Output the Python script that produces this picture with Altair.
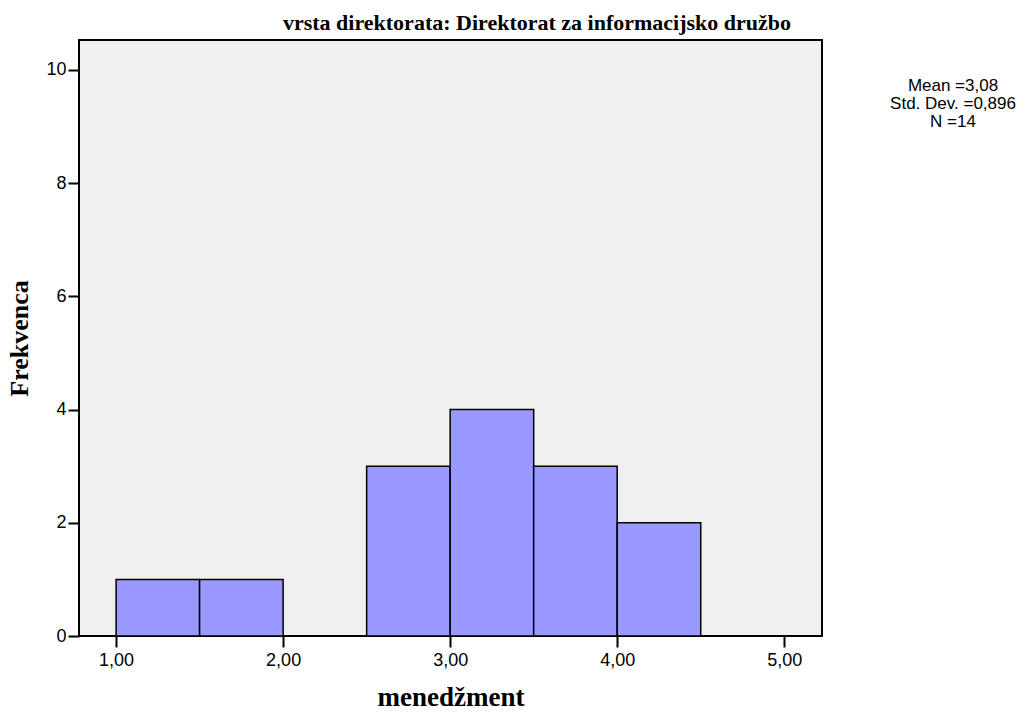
import altair as alt
import pandas as pd

bin_start = [1.0, 1.5, 2.5, 3.0, 3.5, 4.0]
bin_end = [1.5, 2.0, 3.0, 3.5, 4.0, 4.5]
counts = [1, 1, 3, 4, 3, 2]
x_ticks = [1, 2, 3, 4, 5]
y_ticks = [0, 2, 4, 6, 8, 10]
title_text = "vrsta direktorata: Direktorat za informacijsko družbo"
stats_text = "Mean =3,08\nStd. Dev. =0,896\nN =14"

df = pd.DataFrame({"start": bin_start, "end": bin_end, "count": counts})

W, H = 743, 596
xscale = alt.Scale(domain=[0.778, 5.226], nice=False, zero=False)
yscale = alt.Scale(domain=[0, 10.53], nice=False)

bars = alt.Chart(df).mark_rect(fill="#9999FF", stroke="black", strokeWidth=1.5).encode(
    x=alt.X("start:Q", scale=xscale,
            axis=alt.Axis(values=x_ticks, title="menedžment",
                          labelExpr="replace(format(datum.value, '.2f'), '.', ',')",
                          domain=False, grid=False, tickColor="black", tickSize=11, tickWidth=2,
                          labelFont="Liberation Sans", labelFontSize=18, labelColor="black",
                          labelPadding=4,
                          titleFont="Liberation Serif", titleFontSize=27, titleFontWeight="bold",
                          titleColor="black", titlePadding=15)),
    x2="end:Q",
    y=alt.Y("count:Q", scale=yscale,
            axis=alt.Axis(values=y_ticks, title="Frekvenca",
                          domain=False, grid=False, tickColor="black", tickSize=11, tickWidth=2,
                          labelFont="Liberation Sans", labelFontSize=18, labelColor="black",
                          labelPadding=2,
                          titleFont="Liberation Serif", titleFontSize=26, titleFontWeight="bold",
                          titleColor="black", titlePadding=13)),
    y2=alt.datum(0),
)

title = alt.Chart(pd.DataFrame({"t": [title_text]})).mark_text(
    font="Liberation Serif", fontSize=22, fontWeight="bold", color="black",
    align="center", baseline="alphabetic"
).encode(x=alt.value(458), y=alt.value(-10), text="t:N")

stats = alt.Chart(pd.DataFrame({"t": [stats_text]})).mark_text(
    font="Liberation Sans", fontSize=17, color="black", align="center", baseline="middle",
    lineBreak="\n", lineHeight=18
).encode(x=alt.value(874), y=alt.value(46), text="t:N")

chart = alt.layer(bars, title, stats).properties(
    width=W, height=H,
    background="white",
    autosize=alt.AutoSizeParams(type="none"),
    padding={"left": 79, "top": 40, "right": 205, "bottom": 77},
).configure_view(fill="#F0F0F0", stroke="black", strokeWidth=2)

chart.save("out.html", embed_options={"renderer": "svg", "actions": False})
